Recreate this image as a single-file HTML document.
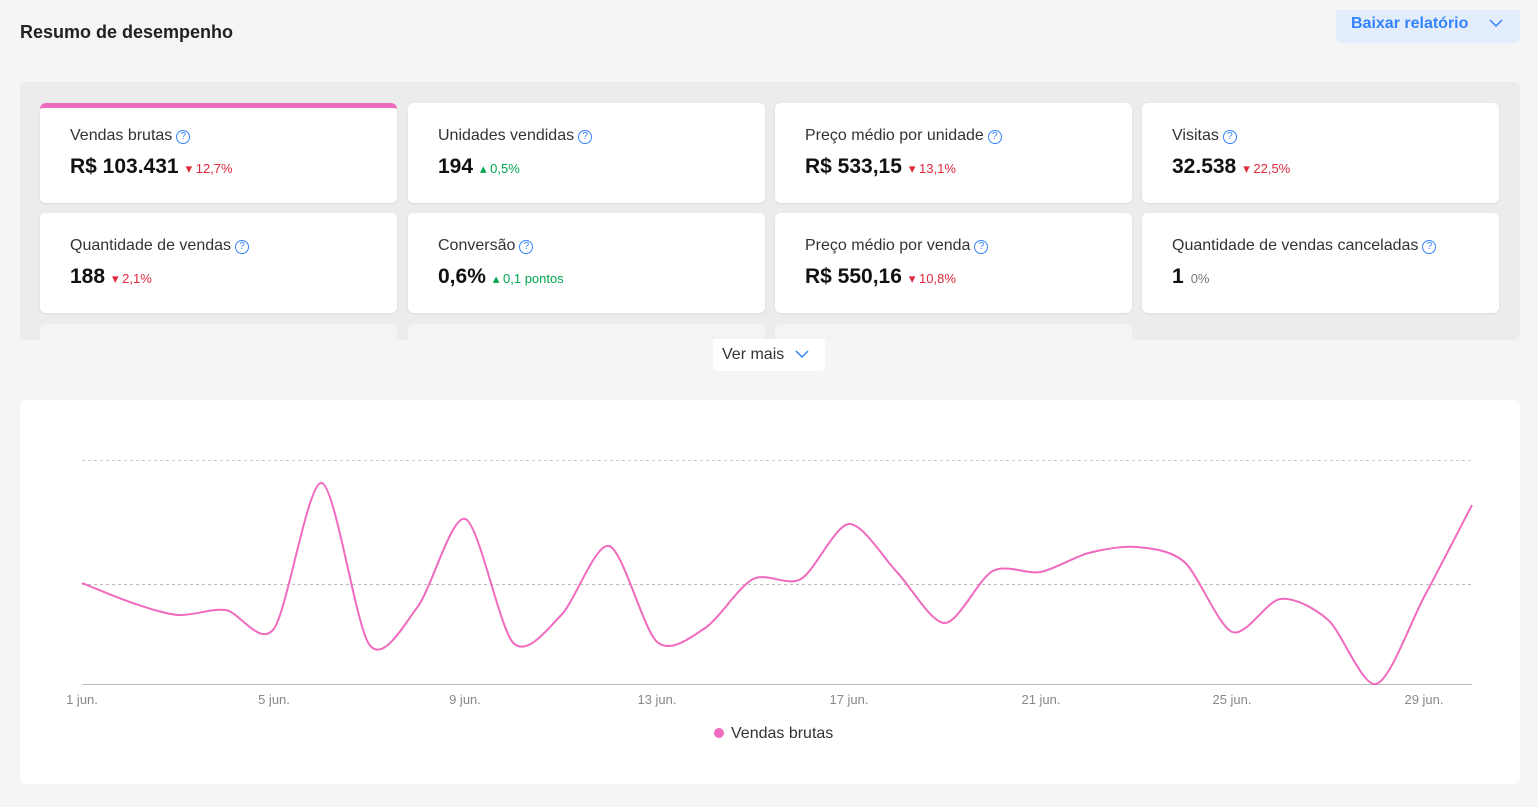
<!DOCTYPE html>
<html><head><meta charset="utf-8"><style>
*{box-sizing:border-box;margin:0;padding:0}
body{width:1538px;height:807px;background:#f5f5f5;font-family:"Liberation Sans",sans-serif;position:relative;overflow:hidden;color:#1a1a1a}
.abs{position:absolute}
.title{left:20px;top:22px;font-size:18px;font-weight:bold;color:#222}
.btn{left:1336px;top:10px;width:184px;height:33px;background:#e3edfb;border-radius:0 0 6px 6px;color:#3483fa;font-size:16px;font-weight:bold;padding:5px 0 0 15px}
.panel{left:20px;top:82px;width:1500px;height:258px;background:#ececec;border-radius:6px;overflow:hidden}
.card{position:absolute;width:357px;height:100px;background:#fff;border-radius:6px;box-shadow:0 1px 2px rgba(0,0,0,.08)}
.card .l{position:absolute;left:30px;top:24px;font-size:16px;color:#333}
.card .v{position:absolute;left:30px;top:52px;font-size:21px;font-weight:bold;color:#111;white-space:nowrap}
.card .v span{font-size:13px;font-weight:normal;margin-left:7px}
.r{color:#e0283c}.g{color:#00a650}.n{color:#777}
.q{display:inline-block;width:14px;height:14px;border:1.3px solid #3483fa;border-radius:50%;color:#3483fa;font-size:10px;text-align:center;line-height:12px;margin-left:4px;vertical-align:1px}
.ghost{position:absolute;top:242px;width:357px;height:30px;background:#f4f4f4;border-radius:6px}
.ver{left:713px;top:339px;width:112px;height:32px;background:#fff;border-radius:0 0 6px 6px;font-size:16px;padding:7px 0 0 9px;color:#333}
.chart{left:20px;top:400px;width:1500px;height:384px;background:#fff;border-radius:6px}
</style></head><body>
<div class="abs title">Resumo de desempenho</div>
<div class="abs btn">Baixar relatório <svg width="14" height="10" style="margin-left:16px" viewBox="0 0 14 10"><path d="M1 2l6 6 6-6" fill="none" stroke="#3483fa" stroke-width="1.5"/></svg></div>
<div class="abs panel">
<div class="card" style="left:20px;top:21px;border-top:5px solid #f06bbf"><div class="l" style="top:19px">Vendas brutas<span class="q">?</span></div><div class="v" style="top:47px">R$ 103.431<span class="r">▾ 12,7%</span></div></div>
<div class="card" style="left:388px;top:21px"><div class="l">Unidades vendidas<span class="q">?</span></div><div class="v">194<span class="g">▴ 0,5%</span></div></div>
<div class="card" style="left:755px;top:21px"><div class="l">Preço médio por unidade<span class="q">?</span></div><div class="v">R$ 533,15<span class="r">▾ 13,1%</span></div></div>
<div class="card" style="left:1122px;top:21px"><div class="l">Visitas<span class="q">?</span></div><div class="v">32.538<span class="r">▾ 22,5%</span></div></div>
<div class="card" style="left:20px;top:131px"><div class="l">Quantidade de vendas<span class="q">?</span></div><div class="v">188<span class="r">▾ 2,1%</span></div></div>
<div class="card" style="left:388px;top:131px"><div class="l">Conversão<span class="q">?</span></div><div class="v">0,6%<span class="g">▴ 0,1 pontos</span></div></div>
<div class="card" style="left:755px;top:131px"><div class="l">Preço médio por venda<span class="q">?</span></div><div class="v">R$ 550,16<span class="r">▾ 10,8%</span></div></div>
<div class="card" style="left:1122px;top:131px"><div class="l">Quantidade de vendas canceladas<span class="q">?</span></div><div class="v">1<span class="n">0%</span></div></div>
<div class="ghost" style="left:20px"></div><div class="ghost" style="left:388px"></div><div class="ghost" style="left:755px"></div>
</div>
<div class="abs ver">Ver mais <svg width="14" height="10" style="margin-left:6px" viewBox="0 0 14 10"><path d="M1 2l6 6 6-6" fill="none" stroke="#3483fa" stroke-width="1.5"/></svg></div>
<div class="abs chart"></div>
<svg class="abs" style="left:0;top:0" width="1538" height="807">
<line x1="82" y1="460.5" x2="1472" y2="460.5" stroke="#ccc" stroke-dasharray="3,3"/>
<line x1="82" y1="584.5" x2="1472" y2="584.5" stroke="#bbb" stroke-dasharray="3,3"/>
<line x1="82" y1="684.5" x2="1472" y2="684.5" stroke="#bbb"/>
<path id="ln" d="" fill="none" stroke="#f06bbf" stroke-width="2"/>
<g font-family="Liberation Sans,sans-serif" font-size="13" fill="#888" text-anchor="middle">
<text x="82" y="704">1 jun.</text><text x="274" y="704">5 jun.</text><text x="465" y="704">9 jun.</text><text x="657" y="704">13 jun.</text><text x="849" y="704">17 jun.</text><text x="1041" y="704">21 jun.</text><text x="1232" y="704">25 jun.</text><text x="1424" y="704">29 jun.</text>
</g>
<circle cx="719" cy="733" r="5" fill="#f06bbf"/>
<text x="731" y="738" font-family="Liberation Sans,sans-serif" font-size="16" fill="#333">Vendas brutas</text>
</svg>
<script>
var ys=[583,602,615,610,629,483,645,607,519,643,615,546,642,628,579,579,524,572,623,571,572,553,547,562,632,599,620,684,597,505];
var p=ys.map(function(y,i){return [82+i*(1390/29),y]});
var d="M"+p[0][0]+","+p[0][1];var k=7;
for(var i=0;i<p.length-1;i++){var p0=p[i-1]||p[i],p1=p[i],p2=p[i+1],p3=p[i+2]||p2;
d+=" C"+(p1[0]+(p2[0]-p0[0])/k)+","+(p1[1]+(p2[1]-p0[1])/k)+" "+(p2[0]-(p3[0]-p1[0])/k)+","+(p2[1]-(p3[1]-p1[1])/k)+" "+p2[0]+","+p2[1];}
document.getElementById("ln").setAttribute("d",d);
</script>
</body></html>
